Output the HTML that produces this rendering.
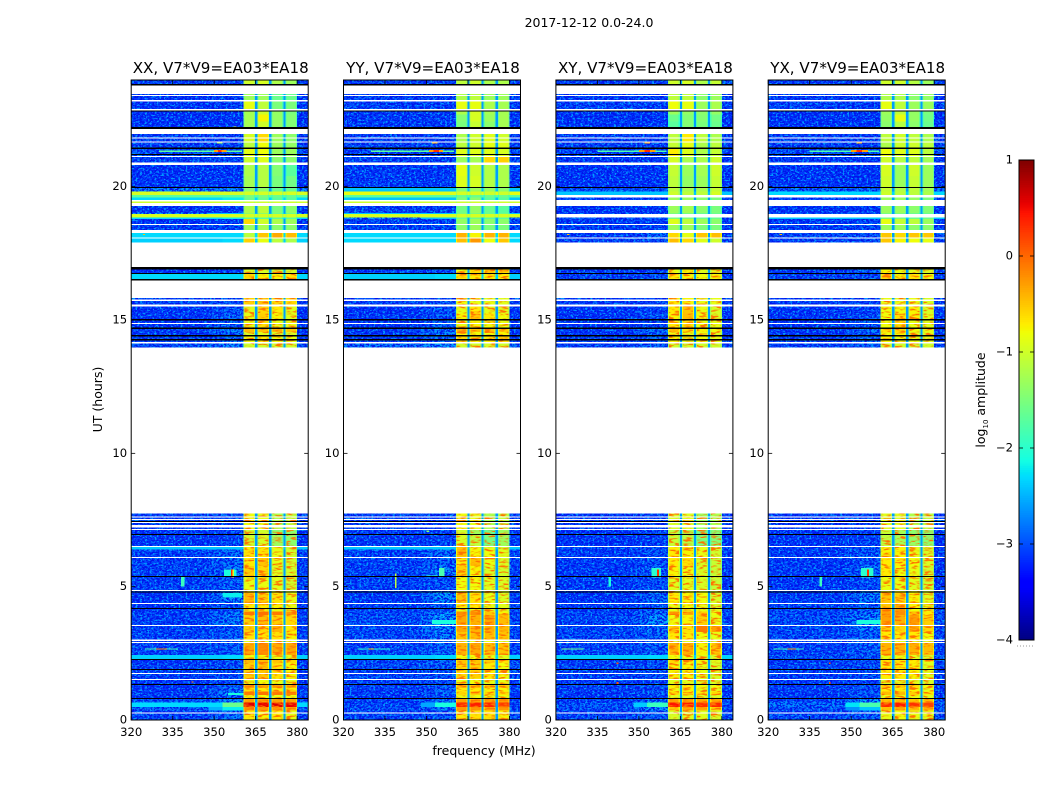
<!DOCTYPE html>
<html lang="en">
<head>
<meta charset="utf-8">
<title>2017-12-12 dynamic spectra</title>
<style>
html,body{margin:0;padding:0;background:#fff;width:1050px;height:800px;overflow:hidden}
svg{display:block}
text{font-family:"DejaVu Sans","Liberation Sans",sans-serif;fill:#000}
</style>
</head>
<body>
<svg id="fig" xmlns="http://www.w3.org/2000/svg" width="1050" height="800" viewBox="0 0 1050 800">
<defs>
<filter id="speckDark" x="0" y="0" width="1" height="1" color-interpolation-filters="sRGB">
<feTurbulence type="fractalNoise" baseFrequency="0.4 0.55" numOctaves="2" seed="11"/>
<feColorMatrix type="matrix" values="0 0 0 0 0  0 0 0 0 0.08  0 0 0 0 0.92  8 0 0 0 -3.4"/>
</filter>
<filter id="speckBlue" x="0" y="0" width="1" height="1" color-interpolation-filters="sRGB">
<feTurbulence type="fractalNoise" baseFrequency="0.42 0.6" numOctaves="2" seed="4"/>
<feColorMatrix type="matrix" values="0 0 0 0 0  0 0 0 0 0.6  0 0 0 0 1  9 0 0 0 -5"/>
</filter>
<filter id="streakWarm" x="0" y="0" width="1" height="1" color-interpolation-filters="sRGB">
<feTurbulence type="fractalNoise" baseFrequency="0.12 0.5" numOctaves="2" seed="7"/>
<feColorMatrix type="matrix" values="0 0 0 0 1  0 0 0 0 0.45  0 0 0 0 0  6 0 0 0 -3"/>
</filter>
</defs>
<text x="589" y="27" font-size="12.5" text-anchor="middle">2017-12-12 0.0-24.0</text>
<text x="484" y="755" font-size="12.5" text-anchor="middle">frequency (MHz)</text>
<text x="0" y="0" font-size="12.5" text-anchor="middle" transform="translate(102,399.5) rotate(-90)">UT (hours)</text>
<text x="0" y="0" font-size="12.5" text-anchor="middle" transform="translate(985,400) rotate(-90)">log<tspan font-size="7" dy="3">10</tspan><tspan dy="-3"> amplitude</tspan></text>
</svg>
<script>
/* ---------- chart data (hours, MHz, log10 amplitude) ---------- */
const panelTitles = ["XX, V7*V9=EA03*EA18","YY, V7*V9=EA03*EA18","XY, V7*V9=EA03*EA18","YX, V7*V9=EA03*EA18"];
const freqTicks = [320,335,350,365,380];
const hourTicks = [0,5,10,15,20];
const colorTicks = [-4,-3,-2,-1,0,1];

/* time bins shared by every panel */
const timeBins = [
[0,.35],[.35,.48],[.48,.65],[.65,.8],[.8,.93],[.93,1.06],[1.06,1.2],[1.2,1.34],[1.34,1.55],[1.55,2.13],
[2.13,2.26],[2.26,2.43],[2.43,2.88],[2.88,3],[3,3.3],[3.3,3.56],[3.56,3.94],[3.94,4.06],[4.06,4.19],[4.19,4.38],
[4.38,4.8],[4.8,5.37],[5.37,5.77],[5.77,6.1],[6.1,6.4],[6.4,6.53],[6.53,6.95],[6.95,7.13],[7.13,7.75],[13.96,14.18],
[14.18,14.4],[14.4,14.55],[14.55,14.68],[14.68,15],[15,15.25],[15.25,15.5],[15.5,15.83],[16.5,16.73],[16.73,16.98],[17.9,18.08],
[18.08,18.27],[18.27,18.6],[18.6,18.79],[18.79,18.85],[18.85,18.97],[18.97,19.02],[19.02,19.3],[19.3,19.44],[19.44,19.6],[19.6,19.69],
[19.69,19.81],[19.81,19.96],[19.96,20.4],[20.4,20.85],[20.85,21.15],[21.15,21.45],[21.45,21.65],[21.65,21.97],[22.16,22.45],[22.45,22.7],
[22.7,22.85],[22.85,23.2],[23.2,23.47],[23.79,24]];

/* frequency zones: background, near-band, and the four bright sub-bands */
const zoneBackground = [[320,348],[380,384]];
const zoneFringe = [348,353];
const zoneNear = [353,360.6];
const subBands = [[360.6,364.8],[365.6,369.9],[370.7,375],[375.8,380]];
const bandGaps = [[364.8,365.6],[369.9,370.7],[375,375.8]];
const bandGapFloor = -2.6;
const bandRolloff = 0.4;
const bandEdgeDrop = 0.3;
const streakHours = [[0,7.75],[13.96,15.83],[16.5,16.98]];

/* no-data rows (white) and flagged rows (black), hours */
const gapHours = [[.25,.29],[1.5,1.54],[1.72,1.76],[2.89,2.93],[2.97,3.01],[3.52,3.56],[4.35,4.39],[4.83,4.87],[6.07,6.11],[6.48,6.53],[7.13,7.17],[7.22,7.32],[7.38,7.42],[7.5,7.54],[7.6,7.64],[7.75,13.96],[14.11,14.18],[14.85,14.89],[15.51,15.59],[15.72,15.77],[15.83,16.49],[16.98,17.9],[18.06,18.1],[18.27,18.38],[18.56,18.6],[19.28,19.38],[19.44,19.5],[20.81,20.9],[21.11,21.15],[21.65,21.69],[21.8,21.84],[21.97,22.16],[22.85,22.91],[23.19,23.25],[23.4,23.44],[23.47,23.79]];
const flagHours = [[.78,.82],[1.31,1.35],[1.87,1.91],[2.25,2.29],[4.16,4.2],[4.78,4.82],[5.36,5.4],[6.94,6.98],[7.42,7.46],[14.24,14.28],[14.39,14.43],[14.67,14.71],[14.99,15.03],[16.49,16.54],[16.73,16.77],[16.9,16.98],[19.95,19.99],[21.19,21.23],[21.42,21.46],[22.16,22.24],[22.82,22.86],[23.79,23.85]];

/* per-panel rows, one per time bin: [background, near-band, sub-band A, B, C, D]; null = no data */
const rowsXX = [
[-3,-2.7,-.7,-.75,-.7,-.85],[-2.8,-2.2,-.2,-.25,-.25,-.35],[-2.3,-1.6,.6,.55,.6,.55],[-2.9,-2.6,-.35,-.3,-.3,-.35],[-3.1,-2.7,-.8,-.8,-.85,-.85],[-3,-2.5,-.1,-.05,-.1,-.15],[-3.1,-2.7,-.65,-.7,-.7,-.75],[-3.1,-2.8,-.3,-.35,-.3,-.4],[-3.1,-2.9,-.85,-.8,-.85,-.85],[-3,-2.9,-.55,-.5,-.65,-.75],
[-3.1,-2.8,-.45,-.45,-.5,-.6],[-2.35,-2.3,-.8,-.8,-.85,-.9],[-3,-2.8,-.35,-.2,-.35,-.35],[-3,-2.9,-.9,-.85,-.85,-.9],[-3,-2.8,-.65,-.65,-.65,-.75],[-3,-2.8,-.55,-.6,-.4,-.7],[-3,-2.6,-.55,-.45,-.55,-.6],[-3,-2.6,-.1,-.05,-.1,-.25],[-3.1,-2.9,-.8,-.8,-.85,-.9],[-3.1,-2.9,-.7,-.7,-.75,-.85],
[-3.1,-2.6,-.45,-.55,-.65,-.85],[-3,-2.8,-.85,-.85,-.9,-1],[-3,-2.7,-.55,-.6,-.9,-1],[-3,-2.7,-.7,-.5,-.85,-1],[-3,-2.7,-.65,-.65,-.85,-1],[-2.4,-2.4,-.75,-.75,-.85,-1],[-3.1,-3,-1,-.95,-1.3,-1.4],[-3.1,-3,-1,-1,-1.4,-1.4],[-3,-3,-.8,-.85,-1.2,-1.1],[-2.9,-2.6,-1,-1,-1,-1],
[-3,-2.7,-.8,-.7,-.8,-.85],[-3.1,-2.7,-.95,-.9,-.95,-.95],[-3,-2.6,-.45,-.5,-.45,-.5],[-3.1,-2.8,-.85,-.65,-.85,-.85],[-3.1,-2.8,-.85,-.55,-.75,-.9],[-3.1,-2.9,-.9,-.6,-.7,-.9],[-3,-2.9,-.55,-.5,-.6,-.6],[-2.3,-2.3,-.6,-.75,-.75,-.65],[-3.1,-3,-.95,-.95,-1,-1],[-2.35,-2.3,-.55,-.85,-1.1,-1.2],
[-2.3,-2.3,-1.1,-.5,-.35,-.45],[-3,-3,-1.3,-1.25,-1.4,-1.4],[-3.1,-3,-.6,-1,-1.2,-1.3],[-2.3,-2.2,-1.7,-1.7,-1.7,-1.7],[-.95,-.95,-.95,-.95,-.95,-.95],[-2.5,-2.4,-1.4,-1.4,-1.6,-1.6],[-3.1,-3.1,-1.2,-1.1,-1.5,-1.4],[-1,-1,-1,-1,-1,-1],[-2.3,-2.2,-1.6,-1.6,-1.7,-1.7],[-1.7,-1.7,-1.5,-1.5,-1.6,-1.6],
[-.95,-.95,-.95,-.95,-.95,-.95],[-2.6,-2.6,-1.4,-1.4,-1.6,-1.6],[-3.1,-3.1,-1.25,-1.15,-1.5,-1.55],[-3.1,-3.1,-1.2,-1.15,-1.45,-1.7],[-3,-3,-1,-.9,-1.4,-1.4],[-2.9,-2.9,-.85,-.8,-1.3,-1.3],[-3,-3,-1.1,-.8,-1.3,-1.35],[-3,-3,-.95,-.6,-1.3,-1.4],[-3.1,-3.1,-1.25,-1,-1.35,-1.45],[-3.1,-3.1,-1.25,-.75,-1.35,-1.45],
[-3.1,-3.1,-1.25,-1,-1.35,-1.5],[-3.1,-3,-.85,-1.1,-1.5,-1.5],[-3.1,-3,-1.3,-1.3,-1.6,-1.6],[-3,-3,-1,-.95,-1.2,-1.3]];
const rowsYY = [
[-2.95,-2.8,-.7,-.65,-.65,-.75],[-2.9,-2.6,-.25,-.25,-.3,-.25],[-3,-2.1,.4,.4,.35,.25],[-3,-2.7,-.3,-.35,-.3,-.3],[-3.1,-2.9,-.85,-.85,-.85,-.85],[-3.05,-2.8,-.6,-.55,-.6,-.65],[-3.05,-2.8,-.7,-.7,-.75,-.75],[-3,-2.8,-.45,-.45,-.5,-.55],[-3,-2.9,-.85,-.8,-.85,-.85],[-2.95,-2.8,-.6,-.55,-.7,-.8],
[-3,-2.7,-.5,-.5,-.55,-.65],[-2.35,-2.3,-.8,-.8,-.85,-.9],[-3,-2.8,-.4,-.35,-.45,-.5],[-3,-2.8,-.9,-.85,-.85,-.9],[-2.95,-2.6,-.5,-.45,-.45,-.5],[-2.95,-2.5,-.35,-.4,-.4,-.45],[-2.9,-2.5,-.35,-.4,-.35,-.45],[-2.95,-2.5,-.2,-.2,-.5,-.75],[-3,-2.9,-.85,-.85,-.85,-.9],[-3,-2.8,-.7,-.7,-.85,-.9],
[-3.05,-2.5,-.5,-.65,-.85,-.95],[-3,-2.9,-.8,-.8,-.9,-.95],[-3,-2.6,-.55,-.75,-.95,-1],[-3,-2.8,-.7,-.45,-.85,-.95],[-3,-2.7,-.5,-.75,-.8,-.9],[-2.4,-2.4,-.5,-.8,-.9,-1],[-3.05,-3,-.95,-1.1,-1.5,-1.3],[-3.05,-3,-1,-1.3,-1.6,-1.3],[-3,-3,-.8,-.85,-1.2,-1.1],[-2.7,-2.5,-1,-1,-.95,-1],
[-3,-2.7,-.6,-.75,-.7,-.6],[-3.05,-2.6,-.75,-.8,-.8,-.75],[-3,-2.6,-.4,-.45,-.5,-.55],[-3.1,-2.8,-.85,-.75,-.8,-.85],[-3.1,-2.8,-.75,-.5,-.7,-.8],[-3.1,-2.9,-.85,-.7,-.85,-.9],[-3,-2.9,-.8,-.85,-.85,-.9],[-2.35,-2.3,-.65,-.7,-.7,-.7],[-3,-2.8,-.85,-.6,-.5,-.6],[-2.3,-2.3,-.45,-.25,-.8,-.5],
[-2.3,-2.3,-.4,-.75,-.4,-.4],[-3,-3,-1.4,-1.3,-1.5,-1.5],[-3,-3,-1.35,-1.3,-1.4,-1.4],[-2.5,-2.4,-1.6,-1.6,-1.7,-1.7],[-.95,-.95,-.95,-.95,-.95,-.95],[-2.4,-2.4,-1.5,-1.5,-1.6,-1.6],[-3,-3,-1.55,-1.35,-1.6,-1.7],[-1,-1,-1,-1,-1,-1],[-2.4,-2.4,-1.5,-1.4,-1.7,-1.7],[-1.7,-1.7,-1.6,-1.6,-1.6,-1.6],
[-.85,-.9,-.95,-.95,-1,-1],[-2.4,-2.4,-1.4,-1.3,-1.3,-1.4],[-3.05,-3.05,-.9,-.95,-1.15,-1.2],[-3.05,-3.05,-.85,-1,-1.15,-1.2],[-3,-3,-1.3,-1.25,-.6,-.55],[-2.95,-2.95,-.9,-.9,-.9,-.95],[-3,-3,-1.1,-1,-.85,-.9],[-3,-3,-1.2,-1,-.9,-1],[-3.05,-3.05,-1.5,-1.05,-1.4,-1.25],[-3.05,-3.05,-1.45,-.95,-1.3,-1.25],
[-3.05,-3.05,-1.2,-.95,-1.25,-1.25],[-3,-3,-.85,-.85,-1.2,-1.25],[-3,-3,-1.2,-1.1,-1.3,-1.3],[-3,-3,-1.1,-1,-1.2,-1.2]];
const rowsXY = [
[-2.95,-2.8,-.95,-.9,-.9,-.95],[-2.9,-2.5,-.5,-.35,-.35,-.55],[-2.85,-1.9,.45,.4,.3,.35],[-3,-2.6,-.3,-.3,-.35,-.35],[-3.1,-3,-.9,-.9,-.9,-.95],[-3.05,-2.8,-.6,-.6,-.7,-.6],[-3.05,-2.9,-.8,-.75,-.85,-.85],[-3,-2.9,-.75,-.7,-.8,-.8],[-3.05,-3,-.9,-.9,-.9,-.95],[-3,-2.9,-.75,-.75,-.85,-.95],
[-3.05,-2.9,-.6,-.7,-.8,-.9],[-2.35,-2.3,-.8,-.85,-.9,-.95],[-3,-2.8,-.4,-.4,-.75,-.5],[-3,-2.9,-.95,-.9,-.9,-.95],[-2.95,-2.8,-.7,-.7,-.8,-.85],[-2.95,-2.7,-.55,-.65,-.1,-.3],[-2.95,-2.5,-.8,-.75,-.55,-.85],[-2.95,-2.6,-.25,-.35,-.55,-.8],[-3.05,-2.9,-.85,-.85,-.85,-.9],[-3.05,-2.9,-.85,-.8,-.85,-.95],
[-3.1,-2.7,-.7,-.75,-.8,-.95],[-3.05,-2.9,-.9,-.9,-.95,-1.05],[-3.05,-2.8,-.75,-.8,-.95,-1.05],[-3.05,-2.9,-.7,-.65,-.95,-1.05],[-3.05,-2.9,-.7,-.75,-.85,-1],[-2.95,-2.9,-.7,-.75,-.85,-1],[-3.1,-3,-1.05,-1.15,-1.5,-1.45],[-3.1,-3,-1.1,-1.2,-1.55,-1.45],[-3.05,-3,-.95,-.9,-1.3,-1.2],[-3,-2.8,-1,-1,-1,-1],
[-3,-2.8,-.75,-.85,-.8,-.85],[-3.1,-2.8,-.85,-.85,-.85,-.9],[-3.05,-2.7,-.45,-.65,-.75,-.8],[-3.1,-2.9,-.7,-.65,-.85,-.85],[-3.1,-2.9,-.75,-.45,-.8,-.95],[-3.1,-3,-.7,-.5,-.85,-.95],[-3.05,-3,-.65,-.75,-.85,-.85],[-3,-2.9,-.7,-.75,-.8,-.75],[-3.05,-3,-.85,-.75,-.9,-.9],[-3,-2.9,-.45,-.6,-.9,-1],
[-3.05,-2.7,-.6,-.85,-.5,-.45],[-3,-3,-1.3,-1.3,-1.5,-1.5],[-3.05,-3,-.9,-1.1,-1.3,-1.4],[-2.9,-2.9,-1.5,-1.5,-1.6,-1.6],null,[-3,-3,-1.5,-1.5,-1.6,-1.6],[-3.1,-3.1,-1.3,-1.25,-1.4,-1.5],null,[-3,-3,-1.3,-1.3,-1.4,-1.5],null,
[-2.4,-2.4,-1,-1.1,-1.1,-.95],[-2.9,-2.9,-1.1,-1.2,-1.2,-1.05],[-3.1,-3.1,-1.1,-1.35,-1.3,-1.05],[-3.1,-3.1,-1.05,-1.3,-1.25,-1],[-3.05,-3.05,-.95,-1.2,-1.2,-1],[-3,-3,-.7,-.9,-1.2,-1.05],[-3,-3,-1.05,-.85,-1.2,-1.1],[-3,-3,-1.1,-.7,-1.1,-1.2],[-3.1,-3.1,-1.7,-1.45,-1.5,-1.6],[-3.1,-3.1,-1.6,-1.45,-1.45,-1.55],
[-3.1,-3.1,-1.3,-1.35,-1.4,-1.35],[-3,-3,-.8,-.85,-1.3,-1.2],[-3.05,-3,-1.1,-1.1,-1.4,-1.3],[-3,-3,-1,-.95,-1.2,-1.05]];
const rowsYX = [
[-2.95,-2.8,-.85,-.8,-.85,-.85],[-2.9,-2.4,-.45,-.35,-.45,-.4],[-2.7,-1.8,.35,.4,.3,.2],[-3,-2.5,-.45,-.45,-.5,-.5],[-3.1,-3,-.85,-.85,-.85,-.9],[-3.05,-2.8,-.45,-.45,-.55,-.7],[-3.05,-2.9,-.7,-.7,-.75,-.85],[-3,-2.9,-.55,-.55,-.65,-.8],[-3.05,-3,-.9,-.9,-.9,-.95],[-3,-2.9,-.7,-.7,-.75,-.9],
[-3.05,-2.9,-.65,-.65,-.7,-.85],[-2.9,-2.9,-.85,-.85,-.9,-.95],[-3,-2.8,-.4,-.4,-.4,-.45],[-3,-2.9,-.9,-.9,-.9,-.95],[-2.95,-2.8,-.7,-.7,-.7,-.8],[-2.95,-2.6,-.55,-.6,-.35,-.6],[-2.9,-2.5,-.3,-.4,-.3,-.55],[-2.9,-2.6,-.3,-.2,-.5,-.7],[-3,-2.8,-.35,-.25,-.8,-.85],[-3,-2.8,-.5,-.35,-.75,-.85],
[-3.05,-2.6,-.5,-.55,-.75,-.9],[-3.05,-2.9,-.85,-.85,-.9,-1],[-3.05,-2.7,-.7,-.8,-.85,-1],[-3.05,-2.9,-.7,-.7,-.8,-.95],[-3.05,-2.8,-.75,-.75,-.85,-.95],[-3.05,-2.8,-.75,-.75,-.85,-.95],[-3.1,-3,-1.1,-1.25,-1.35,-1.4],[-3.1,-3,-1.05,-1.25,-1.4,-1.4],[-3.05,-3,-.9,-.9,-1.2,-1.1],[-3,-2.8,-1,-1,-1,-1],
[-3,-2.7,-.75,-.85,-.85,-.9],[-3.1,-2.8,-.8,-.75,-.85,-.9],[-3.05,-2.7,-.65,-.6,-.8,-.85],[-3.1,-2.9,-.8,-.65,-.85,-.9],[-3.1,-2.9,-.8,-.65,-.75,-.9],[-3.1,-3,-.8,-.8,-.75,-.95],[-3.05,-3,-.85,-.85,-.85,-.95],[-3,-2.9,-.6,-.75,-.7,-.8],[-3.05,-2.8,-.75,-.85,-.9,-.95],[-3,-2.9,-.5,-.75,-.8,-.85],
[-2.95,-2.9,-.5,-.6,-.5,-.5],[-3,-3,-1.3,-1.3,-1.4,-1.4],[-3.05,-3,-.85,-1.05,-1.1,-1.3],[-2.4,-2.4,-1.5,-1.5,-1.6,-1.6],null,[-2.9,-2.9,-1.5,-1.5,-1.6,-1.6],[-3.1,-3.1,-1.3,-1.3,-1.4,-1.45],null,[-3,-3,-1.3,-1.3,-1.35,-1.5],null,
[-2.3,-2.3,-1,-1.1,-1.1,-1.2],[-2.8,-2.8,-1.05,-1.15,-1.1,-1.25],[-3.1,-3.1,-1,-1.3,-1.05,-1.3],[-3.1,-3.1,-.95,-1.3,-1,-1.3],[-3.05,-3.05,-1,-1.15,-1.1,-1.25],[-2.9,-2.9,-.8,-.9,-.9,-1.1],[-3,-3,-1.2,-1,-1,-1.1],[-3,-3,-1.1,-1,-1.1,-1.2],[-3.1,-3.1,-1.4,-1.15,-1.4,-1.6],[-3.1,-3.1,-1.35,-.85,-1.35,-1.55],
[-3.1,-3.1,-1.3,-1.1,-1.35,-1.5],[-3,-3,-.85,-1.1,-1.3,-1.3],[-3.05,-3,-1.2,-1.2,-1.4,-1.35],[-3,-3,-1,-1,-1.15,-1.3]];

/* narrow interference features: [t0, t1, f0, f1, log10 amplitude] */
const spotsXX = [[5,5.4,338,339.3,-1.9],[5.4,5.65,353.5,358,-2.1],[5.35,5.65,356,356.6,.3],[5.35,5.65,356.7,357.2,-.9],[4.6,4.76,353,360,-2.2],[.93,1.02,355,360.6,-2.1],[21.3,21.35,330,360,-1.7],[21.3,21.37,350,354.5,-.3],[21.3,21.37,351.3,352.7,.3],[21.62,21.7,351,353,-1.2],[2.64,2.68,325,337,-1.9],[2.64,2.68,329,333,-.2],[18.18,18.22,324.2,325,-.5],[1.4,1.45,341.8,342.5,-.2],[22.2,22.25,357,358,-1]];
const spotsYY = [[4.95,5.5,338.6,339.2,-1.1],[5.4,5.7,354.5,356.5,-1.8],[5.38,5.42,350,354,-1.9],[3.6,3.75,352,360.6,-2.1],[21.3,21.35,330,360,-1.7],[21.3,21.37,351,356,-.3],[21.3,21.37,352.5,354.5,.3],[21.62,21.7,352,354,-.3],[2.64,2.68,325,337,-2],[2.64,2.68,329,331,-.5],[7.05,7.1,350,351,-1.5]];
const spotsXY = [[5,5.4,339,340,-2.1],[5.35,5.7,354.5,358,-2],[5.4,5.65,356.5,357.2,.3],[21.3,21.35,335,360,-1.8],[21.3,21.37,350,356,-.3],[21.3,21.37,352,354,.3],[21.62,21.7,352,354,-.3],[2.64,2.68,322,330,-1.6],[1.35,1.42,342,342.6,.1],[2.1,2.15,342,342.6,.1],[18.18,18.22,324,325,-.5],[3.7,3.73,360,361,-2]];
const spotsYX = [[5,5.4,338.5,339.4,-1.9],[5.35,5.7,353.5,358,-2],[5.4,5.65,355.8,356.5,.3],[3.6,3.75,352,360.6,-2.1],[21.3,21.35,335,360,-1.8],[21.3,21.37,350,356,-.3],[21.3,21.37,352,354,.3],[21.62,21.7,352,354,-.3],[2.64,2.68,322,333,-1.9],[2.64,2.68,327,330,-.3],[1.35,1.42,342,342.6,.1],[2.1,2.15,342,342.6,.1],[18.18,18.22,324,325,-.5]];

const panelRows = [rowsXX,rowsYY,rowsXY,rowsYX];
const panelSpots = [spotsXX,spotsYY,spotsXY,spotsYX];
const panelNames = ['xx','yy','xy','yx'];
const panelLefts = [131.2,343.5,555.9,768.2];

/* ---------- layout + scales ---------- */
const panelWidth = 177, plotTop = 80, plotBottom = 720;
const freqMin = 320, freqMax = 384, hourMin = 0, hourMax = 24;
const cbLeft = 1019, cbRight = 1034, cbTop = 160, cbBottom = 640, cbMin = -4, cbMax = 1;
const SVGNS = 'http://www.w3.org/2000/svg';
const fig = document.getElementById('fig');

function xScale(left,f){ return left + (f-freqMin)/(freqMax-freqMin)*panelWidth; }
function yScale(t){ return plotBottom - (t-hourMin)/(hourMax-hourMin)*(plotBottom-plotTop); }
function cbScale(v){ return cbBottom - (v-cbMin)/(cbMax-cbMin)*(cbBottom-cbTop); }
function clamp(a){ return Math.max(0,Math.min(1,a)); }
function jet(logAmp){
  const v = clamp((logAmp-cbMin)/(cbMax-cbMin));
  const r = v<.35?0:v<.66?(v-.35)/.31:v<.89?1:1-(v-.89)/.11*.5;
  const g = v<.125?0:v<.375?(v-.125)/.25:v<.64?1:v<.91?1-(v-.64)/.27:0;
  const b = v<.11?.5+v/.11*.5:v<.34?1:v<.65?1-(v-.34)/.31:0;
  return 'rgb('+Math.round(r*255)+','+Math.round(g*255)+','+Math.round(b*255)+')';
}
function makeRect(parent,x,y,w,h,fill){
  const el = document.createElementNS(SVGNS,'rect');
  el.setAttribute('x',x); el.setAttribute('y',y);
  el.setAttribute('width',w); el.setAttribute('height',h);
  el.setAttribute('fill',fill);
  parent.appendChild(el);
  return el;
}
function makeLine(parent,x1,y1,x2,y2){
  const el = document.createElementNS(SVGNS,'line');
  el.setAttribute('x1',x1); el.setAttribute('y1',y1);
  el.setAttribute('x2',x2); el.setAttribute('y2',y2);
  el.setAttribute('stroke','#000'); el.setAttribute('stroke-width','0.8');
  parent.appendChild(el);
  return el;
}
function makeText(parent,x,y,str,anchor,size){
  const el = document.createElementNS(SVGNS,'text');
  el.setAttribute('x',x); el.setAttribute('y',y);
  el.setAttribute('text-anchor',anchor); el.setAttribute('font-size',size);
  el.textContent = str;
  parent.appendChild(el);
  return el;
}
function makeGroup(parent,crisp){
  const el = document.createElementNS(SVGNS,'g');
  if(crisp) el.setAttribute('shape-rendering','crispEdges');
  parent.appendChild(el);
  return el;
}
function cell(parent,left,t0,t1,f0,f1,logAmp){
  const x0 = xScale(left,f0), x1 = xScale(left,f1), y0 = yScale(t1), y1 = yScale(t0);
  const el = makeRect(parent,x0,y0,x1-x0,y1-y0,jet(logAmp));
  
  
  return el;
}

/* ---------- panels ---------- */
panelRows.forEach(function(rows,p){
  const left = panelLefts[p];
  const panel = makeGroup(fig,false);
  
  
  const heat = makeGroup(panel,true);
  
  
  const quiet = -2.5;

  /* faint rows first, then receiver-noise mottling, then strong rows on top */
  timeBins.forEach(function(bin,i){
    const r = rows[i];
    if(!r) return;
    if(r[0] <= quiet){
      zoneBackground.forEach(function(z){ cell(heat,left,bin[0],bin[1],z[0],z[1],r[0]); });
      cell(heat,left,bin[0],bin[1],zoneFringe[0],zoneFringe[1],r[1] <= quiet ? (r[0]+r[1])/2 : r[0]);
    }
    if(r[1] <= quiet) cell(heat,left,bin[0],bin[1],zoneNear[0],zoneNear[1],r[1]);
  });
  ['speckDark','speckBlue'].forEach(function(id){
    zoneBackground.concat([[zoneFringe[0],zoneNear[1]]]).forEach(function(z){
      const n = makeRect(panel,xScale(left,z[0]),plotTop,xScale(left,z[1])-xScale(left,z[0]),plotBottom-plotTop,'#000');
      n.setAttribute('filter','url(#'+id+')');
      
      
    });
  });
  const upper = makeGroup(panel,true);
  
  
  timeBins.forEach(function(bin,i){
    const r = rows[i];
    if(!r) return;
    if(r[0] > quiet){
      zoneBackground.forEach(function(z){ cell(upper,left,bin[0],bin[1],z[0],z[1],r[0]); });
      cell(upper,left,bin[0],bin[1],zoneFringe[0],zoneFringe[1],r[0]);
    } else if(r[1] > quiet){
      cell(upper,left,bin[0],bin[1],zoneFringe[0],zoneFringe[1],(r[0]+r[1])/2);
    }
    if(r[1] > quiet) cell(upper,left,bin[0],bin[1],zoneNear[0],zoneNear[1],r[1]);
    bandGaps.forEach(function(g){ cell(upper,left,bin[0],bin[1],g[0],g[1],Math.max(bandGapFloor,r[0])); });
    subBands.forEach(function(b,k){
      cell(upper,left,bin[0],bin[1],b[0],b[1],r[2+k]);
      cell(upper,left,bin[0],bin[1],b[0],b[0]+bandRolloff,r[2+k]-bandEdgeDrop);
      cell(upper,left,bin[0],bin[1],b[1]-bandRolloff,b[1],r[2+k]-bandEdgeDrop);
    });
  });
  subBands.forEach(function(b){
    streakHours.forEach(function(h){
      const x0 = xScale(left,b[0]+bandRolloff), x1 = xScale(left,b[1]-bandRolloff);
      const n = makeRect(panel,x0,yScale(h[1]),x1-x0,yScale(h[0])-yScale(h[1]),'#000');
      n.setAttribute('filter','url(#streakWarm)');
      
      
    });
  });
  const marks = makeGroup(panel,true);
  
  
  panelSpots[p].forEach(function(s){ cell(marks,left,s[0],s[1],s[2],s[3],s[4]); });

  /* no-data and flagged rows */
  const masks = makeGroup(panel,true);
  
  
  timeBins.forEach(function(bin,i){
    if(rows[i]) return;
    const m = makeRect(masks,left,yScale(bin[1]),panelWidth,yScale(bin[0])-yScale(bin[1]),'#fff');
    
    
  });
  gapHours.forEach(function(g){
    const m = makeRect(masks,left,yScale(g[1]),panelWidth,yScale(g[0])-yScale(g[1]),'#fff');
    
    
  });
  flagHours.forEach(function(g){
    const m = makeRect(masks,left,yScale(g[1]),panelWidth,yScale(g[0])-yScale(g[1]),'#000');
    
    
  });

  /* frame + ticks */
  const frame = makeRect(panel,left,plotTop,panelWidth,plotBottom-plotTop,'none');
  frame.setAttribute('stroke','#000');
  frame.setAttribute('stroke-width','1');
  
  
  freqTicks.forEach(function(f){
    const x = xScale(left,f);
    const a = makeLine(panel,x,plotBottom,x,plotBottom-4);
    
    
    const b = makeLine(panel,x,plotTop,x,plotTop+4);
    
    
    const t = makeText(panel,x,736,String(f),'middle',11.6);
    
    
  });
  hourTicks.forEach(function(h){
    const y = yScale(h);
    const a = makeLine(panel,left,y,left+4,y);
    
    
    const b = makeLine(panel,left+panelWidth,y,left+panelWidth-4,y);
    
    
    const t = makeText(panel,left-4,y+3.5,String(h),'end',11.6);
    
    
  });
  const title = makeText(panel,left+panelWidth/2+1,73,panelTitles[p],'middle',15.1);
  
  
});

/* ---------- colorbar ---------- */
const cb = makeGroup(fig,false);


const cbRamp = makeGroup(cb,true);


const cbSteps = 256;
for(let i=0;i<cbSteps;i++){
  const v0 = cbMin + (cbMax-cbMin)*i/cbSteps, v1 = cbMin + (cbMax-cbMin)*(i+1)/cbSteps;
  const s = makeRect(cbRamp,cbLeft,cbScale(v1),cbRight-cbLeft,cbScale(v0)-cbScale(v1)+.5,jet((v0+v1)/2));
  
  
}
const cbFrame = makeRect(cb,cbLeft,cbTop,cbRight-cbLeft,cbBottom-cbTop,'none');
cbFrame.setAttribute('stroke','#000');
cbFrame.setAttribute('stroke-width','1');


colorTicks.forEach(function(v){
  const y = cbScale(v);
  const a = makeLine(cb,cbLeft,y,cbLeft+4,y);
  
  
  const b = makeLine(cb,cbRight,y,cbRight-4,y);
  
  
  const t = makeText(cb,cbLeft-6,y+3.5,(v<0?'\u2212':'')+Math.abs(v),'end',11.6);
  
  
});
const cbDots = makeLine(cb,1017,646,1035,646);
cbDots.setAttribute('stroke','#777');
cbDots.setAttribute('stroke-dasharray','1 2');


</script>
</body>
</html>
